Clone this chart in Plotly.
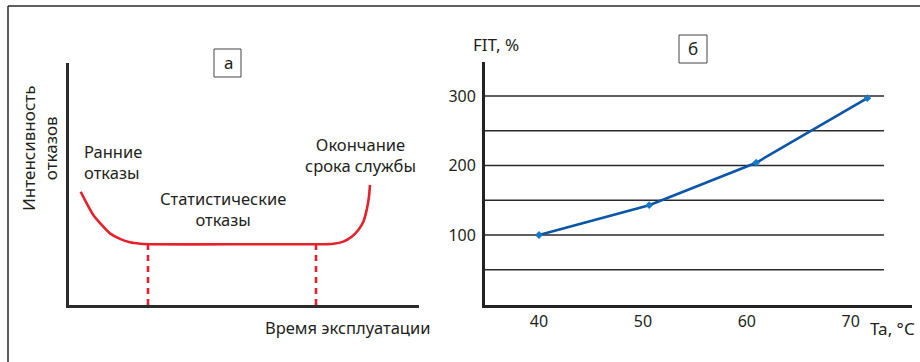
import plotly.graph_objects as go

W, H = 920, 362

# Panel "а": bathtub curve of failure intensity (schematic units 0..100)
bathtub_x = [3.34, 5.06, 6.94, 9.34, 11.71, 14.57, 17.43, 20.29, 22.57, 46.6,
             70.57, 72.66, 75.51, 78.37, 80.77, 82.66, 84.09, 85.06, 85.71, 86.0]
bathtub_y = [46.8, 42.0, 37.2, 33.1, 29.6, 27.3, 25.9, 25.3, 25.1, 25.1,
             25.1, 25.1, 25.3, 26.2, 28.2, 31.0, 34.4, 39.3, 44.8, 49.6]
phase_bounds_x = [22.57, 70.57]
flat_level = 25.1

# Panel "б": FIT vs ambient temperature
temp_c = [40, 50.6, 60.9, 71.6]
fit_pct = [100, 143, 204, 297]
fit_ticks = [100, 200, 300]
fit_grid = [50, 100, 150, 200, 250, 300]
temp_ticks = [40, 50, 60, 70]

FONT = "Noto Sans"
INK = "#231f20"
RED = "#e8202a"
BLUE = "#0b56a8"


def px(x):
    return x / W


def py(y):
    return 1 - y / H


fig = go.Figure()

# Bathtub curve
fig.add_trace(go.Scatter(
    x=bathtub_x, y=bathtub_y, mode="lines",
    line=dict(color=RED, width=2.6, shape="spline", smoothing=0.5),
    xaxis="x", yaxis="y", hoverinfo="skip", showlegend=False))

# Dashed phase boundaries
for bx in phase_bounds_x:
    fig.add_trace(go.Scatter(
        x=[bx, bx], y=[0, flat_level], mode="lines",
        line=dict(color=RED, width=2.6, dash="6px,5px"),
        xaxis="x", yaxis="y", hoverinfo="skip", showlegend=False))

# FIT line
fig.add_trace(go.Scatter(
    x=temp_c, y=fit_pct, mode="lines+markers",
    line=dict(color=BLUE, width=2.6),
    marker=dict(symbol="diamond", size=6, color="#1b78c8"),
    xaxis="x2", yaxis="y2", showlegend=False))

shapes = []
# Horizontal grid lines of panel "б"
for g in fit_grid:
    shapes.append(dict(type="line", xref="x2", yref="y2",
                       x0=34.8, x1=73.2, y0=g, y1=g,
                       line=dict(color="#2a2a2a", width=1.4), layer="below"))

# Outer frame (left and top edges)
shapes.append(dict(type="line", xref="paper", yref="paper",
                   x0=px(8), x1=px(8), y0=py(6), y1=0,
                   line=dict(color="#2b2b2b", width=1.5)))
shapes.append(dict(type="line", xref="paper", yref="paper",
                   x0=px(8), x1=1, y0=py(6), y1=py(6),
                   line=dict(color="#2b2b2b", width=1.5)))

# Panel letter boxes
for (x0, x1, y0, y1) in [(214, 241, 49, 77), (679, 707, 35, 63)]:
    shapes.append(dict(type="rect", xref="paper", yref="paper",
                       x0=px(x0), x1=px(x1), y0=py(y0), y1=py(y1),
                       line=dict(color="#444", width=1)))

annotations = []


def label(text, x, y, size=16.5, xanchor="center", align="center", angle=0):
    annotations.append(dict(text=text, x=px(x), y=py(y), xref="paper", yref="paper",
                            xanchor=xanchor, yanchor="middle", align=align,
                            textangle=angle, showarrow=False,
                            font=dict(family=FONT, size=size, color=INK)))


label("а", 228, 62, size=17)
label("б", 693, 48, size=17)
label("Ранние<br>отказы", 82, 162, xanchor="left", align="left")
label("Статистические<br>отказы", 223, 209)
label("Окончание<br>срока службы", 360, 155)
label("Время эксплуатации", 347, 327)
label("Интенсивность<br>отказов", 39, 149, size=17, angle=-90)
label("FIT, %", 471, 45, size=17, xanchor="left", align="left")
label("Ta, °C", 868, 328, size=17, xanchor="left", align="left")

axis_font = dict(family=FONT, size=16, color=INK)

fig.update_layout(
    width=W, height=H,
    margin=dict(l=0, r=0, t=0, b=0),
    paper_bgcolor="white", plot_bgcolor="rgba(0,0,0,0)",
    shapes=shapes, annotations=annotations,
    xaxis=dict(domain=[px(69), px(419)], range=[0, 100],
               showline=True, linecolor="#2b2b2b", linewidth=2.6,
               showgrid=False, zeroline=False, showticklabels=False, ticks=""),
    yaxis=dict(domain=[py(305), py(63)], range=[0, 100],
               showline=True, linecolor="#2b2b2b", linewidth=2.6,
               showgrid=False, zeroline=False, showticklabels=False, ticks=""),
    xaxis2=dict(domain=[px(485), px(912)], range=[34.8, 75.9], anchor="y2",
                tickvals=temp_ticks, ticks="", tickfont=axis_font,
                showline=True, linecolor="#222", linewidth=2.8,
                showgrid=False, zeroline=False),
    yaxis2=dict(domain=[py(304.5), py(62)], range=[0, 349], anchor="x2",
                tickvals=fit_ticks, ticks="", tickfont=axis_font,
                ticklabelstandoff=3,
                showline=True, linecolor="#222", linewidth=2.8,
                showgrid=False, zeroline=False),
)

fig.write_html("out.html")
